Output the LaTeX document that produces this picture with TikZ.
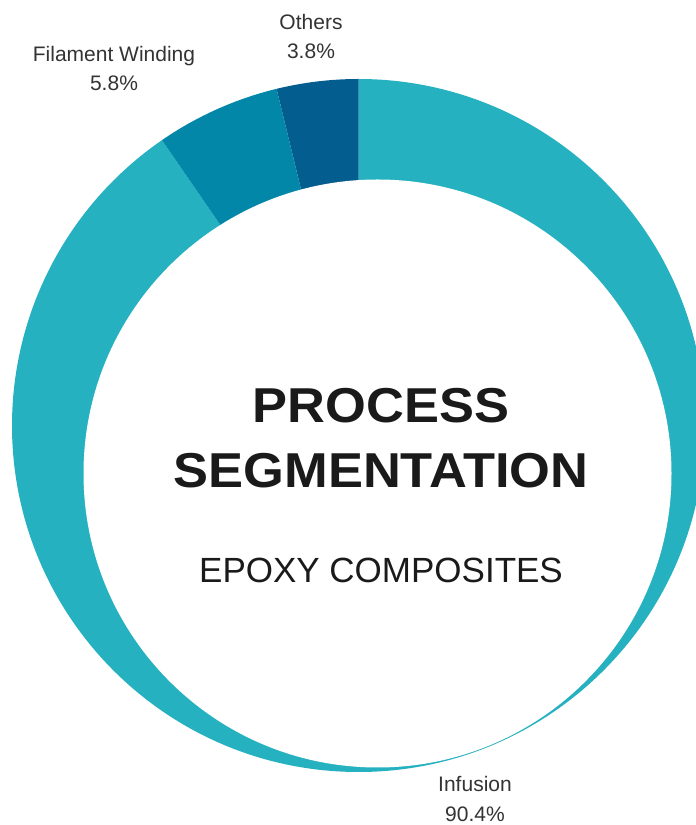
\documentclass[tikz,border=0pt]{standalone}
\usepackage{fontspec}
\setmainfont{Liberation Sans}
\newfontfamily\titlefont[FakeStretch=1.07]{Liberation Sans}

\definecolor{infusioncol}{HTML}{26B1C1}
\definecolor{filamentcol}{HTML}{0287A9}
\definecolor{otherscol}{HTML}{045D8F}
\definecolor{labelgray}{HTML}{333333}
\definecolor{titleblack}{HTML}{1A1A1A}

\begin{document}
\begin{tikzpicture}[x=1pt, y=1pt,
    seglabel/.style={anchor=base, inner sep=0pt, text=labelgray, font=\fontsize{21}{25}\selectfont}]
    \useasboundingbox (0,0) rectangle (696,825);
    % Centre of the ring and of the (offset) hole
    \coordinate (c) at (358.5,399.5);
    \coordinate (h) at (377.5,351.5);
    % Sectors: Infusion 90.4%, Others 3.8%, Filament Winding 5.8%
    \fill[infusioncol] (c) -- ++(90:346.5pt) arc[start angle=90, end angle=-235.44, radius=346.5pt] -- cycle;
    \fill[otherscol] (c) -- ++(90:346.5pt) arc[start angle=90, end angle=103.68, radius=346.5pt] -- cycle;
    \fill[filamentcol] (c) -- ++(103.68:346.5pt) arc[start angle=103.68, end angle=124.56, radius=346.5pt] -- cycle;
    % Hole of the donut
    \fill[white] (h) circle[radius=294pt];
    % Title in the hole
    \node[anchor=base, inner sep=0pt, text=titleblack, font=\titlefont\bfseries\fontsize{49}{58}\selectfont] (titletop) at (381,402) {PROCESS};
    \node[anchor=base, inner sep=0pt, text=titleblack, font=\titlefont\bfseries\fontsize{49}{58}\selectfont] (titlebot) at (381,337) {SEGMENTATION};
    \node[anchor=base, inner sep=0pt, text=titleblack, font=\fontsize{35}{40}\selectfont] (subtitle) at (381,242) {EPOXY COMPOSITES};
    % Segment labels
    \node[seglabel] (filament) at (114,763) {Filament Winding};
    \node[seglabel] (filamentpct) at (114,734) {5.8\%};
    \node[seglabel] (others) at (311,795) {Others};
    \node[seglabel] (otherspct) at (311,766) {3.8\%};
    \node[seglabel] (infusion) at (475,33) {Infusion};
    \node[seglabel] (infusionpct) at (475,4) {90.4\%};
\end{tikzpicture}
\end{document}
